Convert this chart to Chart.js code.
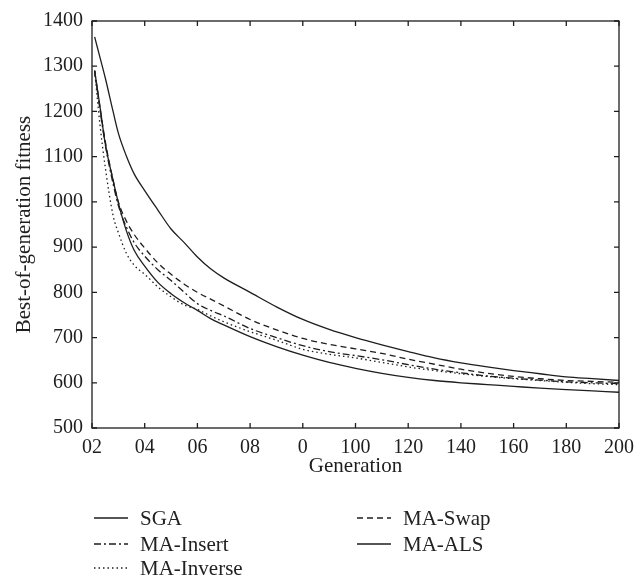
<!DOCTYPE html>
<html>
<head>
<meta charset="utf-8">
<script src="https://cdn.jsdelivr.net/npm/chart.js@4.4.1/dist/chart.umd.min.js"></script>
<style>
  html, body { margin: 0; padding: 0; background: #fff; }
  #wrap { position: relative; width: 644px; height: 580px; }
  #box { position: absolute; left: 0; top: 0; width: 644px; height: 490px; }
  #legend { position: absolute; left: 0; top: 0; width: 644px; height: 580px; pointer-events: none;
            font-family: "Liberation Serif", "Times New Roman", serif; font-size: 21px; color: #222; }
  .item { position: absolute; display: flex; align-items: center; white-space: nowrap; }
  .item svg { margin-right: 6px; }
</style>
</head>
<body>
<div id="wrap">
  <div id="box"><canvas id="c" width="644" height="490"></canvas></div>
  <div id="legend"></div>
</div>
<script>
// ---- data ----
const generations = [1, 3, 5, 8, 10, 13, 16, 20, 25, 30, 35, 40, 45, 50, 60, 70, 80, 90, 100, 110, 120, 130, 140, 150, 160, 170, 180, 190, 200];
const sga       = [1365, 1320, 1275, 1200, 1152, 1102, 1062, 1025, 982, 940, 910, 878, 852, 832, 800, 768, 740, 718, 700, 684, 669, 655, 644, 635, 627, 620, 613, 609, 605];
const maSwap    = [1290, 1210, 1135, 1048, 1000, 958, 928, 898, 865, 840, 818, 800, 785, 770, 740, 717, 698, 685, 675, 665, 652, 641, 630, 621, 614, 609, 605, 603, 601];
const maInsert  = [1290, 1205, 1128, 1040, 992, 945, 910, 880, 850, 826, 800, 775, 760, 748, 720, 700, 682, 669, 660, 651, 640, 630, 622, 615, 610, 606, 602, 600, 598];
const maInverse = [1290, 1172, 1078, 970, 932, 887, 860, 840, 812, 790, 772, 762, 748, 735, 713, 694, 674, 663, 655, 645, 635, 627, 620, 614, 609, 605, 601, 598, 596];
const maALS     = [1290, 1212, 1130, 1048, 998, 937, 893, 858, 822, 797, 777, 760, 742, 728, 702, 680, 661, 645, 632, 621, 612, 605, 600, 596, 592, 588, 585, 582, 579];
const xTickValues = [0, 20, 40, 60, 80, 100, 120, 140, 160, 180, 200];
const xTickLabels = ["02", "04", "06", "08", "0", "100", "120", "140", "160", "180", "200"];
const yTickValues = [500, 600, 700, 800, 900, 1000, 1100, 1200, 1300, 1400];
const seriesNames = ["SGA", "MA-Swap", "MA-Insert", "MA-ALS", "MA-Inverse"];

const INK = '#1e1e1e';
const FONT = '"Liberation Serif", "Times New Roman", serif';
const dashes = { "SGA": [], "MA-Swap": [6, 4], "MA-Insert": [7, 3, 2, 3], "MA-ALS": [], "MA-Inverse": [1.5, 3] };
const seriesData = { "SGA": sga, "MA-Swap": maSwap, "MA-Insert": maInsert, "MA-ALS": maALS, "MA-Inverse": maInverse };

const datasets = seriesNames.map(name => ({
  label: name,
  data: generations.map((g, i) => ({ x: g, y: seriesData[name][i] })),
  borderColor: INK,
  borderWidth: 1.3,
  borderDash: dashes[name],
  pointRadius: 0,
  fill: false,
  cubicInterpolationMode: 'monotone'
}));

const frame = {
  id: 'frame',
  afterDraw(chart) {
    const { ctx, chartArea: a, scales } = chart;
    ctx.save();
    ctx.strokeStyle = INK;
    ctx.lineWidth = 1.3;
    ctx.setLineDash([]);
    ctx.strokeRect(a.left, a.top, a.right - a.left, a.bottom - a.top);
    const L = 5;
    ctx.beginPath();
    xTickValues.forEach(v => {
      const px = scales.x.getPixelForValue(v);
      ctx.moveTo(px, a.bottom); ctx.lineTo(px, a.bottom - L);
      ctx.moveTo(px, a.top); ctx.lineTo(px, a.top + L);
    });
    yTickValues.forEach(v => {
      const py = scales.y.getPixelForValue(v);
      ctx.moveTo(a.left, py); ctx.lineTo(a.left + L, py);
      ctx.moveTo(a.right, py); ctx.lineTo(a.right - L, py);
    });
    ctx.stroke();
    ctx.restore();
  }
};

new Chart(document.getElementById('c'), {
  type: 'line',
  data: { datasets },
  options: {
    responsive: false,
    animation: false,
    layout: { padding: { left: 0, right: 25, top: 14, bottom: 0 } },
    plugins: { legend: { display: false }, tooltip: { enabled: false } },
    scales: {
      x: {
        type: 'linear', min: 0, max: 200,
        afterBuildTicks: s => { s.ticks = xTickValues.map(v => ({ value: v })); },
        afterFit: s => { s.height = 62; },
        ticks: {
          color: INK, font: { family: FONT, size: 20 }, padding: 8, maxRotation: 0, autoSkip: false,
          callback: (v) => { const i = xTickValues.indexOf(v); return i >= 0 ? xTickLabels[i] : ''; }
        },
        grid: { display: true, drawOnChartArea: false, drawTicks: false },
        border: { display: false },
        title: { display: true, text: 'Generation', color: INK, font: { family: FONT, size: 21 }, padding: { top: 0, bottom: 11 } }
      },
      y: {
        type: 'linear', min: 500, max: 1400,
        afterBuildTicks: s => { s.ticks = yTickValues.map(v => ({ value: v })); },
        afterFit: s => { s.width = 92; },
        ticks: { color: INK, font: { family: FONT, size: 20 }, padding: 9, autoSkip: false,
                 callback: (v) => String(v) },
        grid: { display: true, drawOnChartArea: false, drawTicks: false },
        border: { display: false },
        title: { display: true, text: 'Best-of-generation fitness', color: INK, font: { family: FONT, size: 21 }, padding: { top: 12, bottom: 0 } }
      }
    }
  },
  plugins: [frame]
});

// ---- HTML legend (two columns, like the reference) ----
const legendLayout = [
  { name: "SGA", left: 94, top: 518 },
  { name: "MA-Swap", left: 357, top: 518 },
  { name: "MA-Insert", left: 94, top: 544 },
  { name: "MA-ALS", left: 357, top: 544 },
  { name: "MA-Inverse", left: 94, top: 568 }
];
const lg = document.getElementById('legend');
legendLayout.forEach(it => {
  const d = document.createElement('div');
  d.className = 'item';
  d.style.left = it.left + 'px';
  d.style.top = (it.top - 12) + 'px';
  d.style.height = '24px';
  const dash = dashes[it.name].length ? dashes[it.name].join(',') : 'none';
  d.innerHTML = '<svg width="40" height="10"><line x1="0" y1="5" x2="34" y2="5" stroke="' + INK +
    '" stroke-width="1.3" stroke-dasharray="' + dash + '"/></svg>';
  const t = document.createElement('span');
  t.textContent = it.name;
  d.appendChild(t);
  lg.appendChild(d);
});
</script>
</body>
</html>
